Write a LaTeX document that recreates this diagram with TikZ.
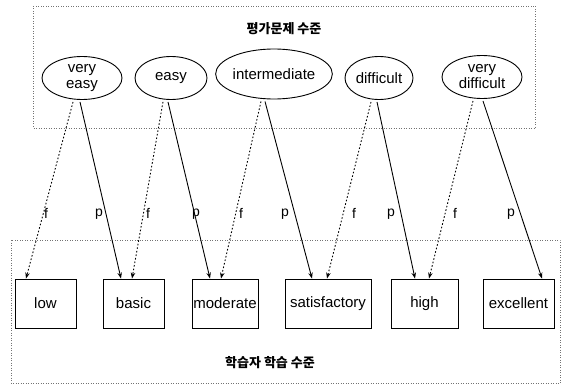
\documentclass[tikz,border=0pt]{standalone}
\usepackage{fontspec}
\setmainfont{Liberation Sans}
\newfontfamily\kr{Noto Sans CJK KR}
\usetikzlibrary{arrows.meta,shapes.geometric}
\begin{document}
\begin{tikzpicture}[x=1pt,y=-1pt,
  lvl/.style={ellipse,draw,line width=0.9pt,inner sep=0pt,minimum height=43pt,font=\fontsize{15}{16}\selectfont,align=center},
  stu/.style={rectangle,draw,line width=0.9pt,minimum height=49pt,inner sep=0pt,font=\fontsize{15}{16}\selectfont},
  grp/.style={draw=black!55,dotted,line width=0.5pt},
  ttl/.style={font=\kr\bfseries\fontsize{13}{13}\selectfont},
  parr/.style={-{Stealth[length=6pt,width=4.5pt]},line width=0.9pt},
  farr/.style={-{Stealth[length=6pt,width=4.5pt]},line width=0.9pt,dash pattern=on 1.6pt off 2pt},
  lab/.style={font=\fontsize{14}{14}\selectfont,inner sep=1pt}
]
\useasboundingbox (0,0) rectangle (562,385);
\draw[grp] (33,6) rectangle (535,128);
\draw[grp] (11,240) rectangle (560,383);
\node[ttl] (top) at (284,29) {평가문제 수준};
\node[ttl] (bot) at (270,363) {학습자 학습 수준};

\node[lvl,minimum width=80pt] (ve) at (82,78) {very\\easy};
\node[lvl,minimum width=72pt] (ea) at (171,78) {easy};
\node[lvl,minimum width=100pt,minimum height=50pt] (in) at (274,74) {intermediate};
\node[lvl,minimum width=68pt] (di) at (379,78) {difficult};
\node[lvl,minimum width=80pt] (vd) at (482,77) {very\\difficult};

\node[stu,minimum width=61pt] (low) at (45.5,303.5) {low};
\node[stu,minimum width=61pt] (bas) at (133.5,303.5) {basic};
\node[stu,minimum width=66pt] (mod) at (225,303.5) {moderate};
\node[stu,minimum width=86pt] (sat) at (328,303.5) {satisfactory};
\node[stu,minimum width=67pt] (hig) at (424.5,303.5) {high};
\node[stu,minimum width=71pt] (exc) at (518.5,303.5) {excellent};

\draw[farr] ([xshift=-9pt,yshift=-2pt]ve.south) -- ([xshift=-19.5pt]low.north);
\draw[parr] ([xshift=-2pt,yshift=-2pt]ve.south) -- ([xshift=-12.5pt]bas.north);
\draw[farr] ([xshift=-8pt,yshift=-2pt]ea.south) -- ([xshift=-1.5pt]bas.north);
\draw[parr] ([xshift=-3pt,yshift=-2pt]ea.south) -- ([xshift=-15pt]mod.north);
\draw[farr] ([xshift=-13pt,yshift=-2pt]in.south) -- ([xshift=-4pt]mod.north);
\draw[parr] ([xshift=-9pt,yshift=-2pt]in.south) -- ([xshift=-16pt]sat.north);
\draw[farr] ([xshift=-8pt,yshift=-2pt]di.south) -- ([xshift=-1pt]sat.north);
\draw[parr] ([xshift=-2pt,yshift=-2pt]di.south) -- ([xshift=-9.5pt]hig.north);
\draw[farr] ([xshift=-9pt,yshift=-2pt]vd.south) -- ([xshift=4.5pt]hig.north);
\draw[parr] ([xshift=1pt,yshift=-2pt]vd.south) -- ([xshift=23.5pt]exc.north);

\node[lab] (f1) at (46,213) {f};
\node[lab] (p1) at (99,214) {p};
\node[lab] (f2) at (148,213) {f};
\node[lab] (p2) at (196,214) {p};
\node[lab] (f3) at (241,213) {f};
\node[lab] (p3) at (285,214) {p};
\node[lab] (f4) at (354,213) {f};
\node[lab] (p4) at (391,214) {p};
\node[lab] (f5) at (455,213) {f};
\node[lab] (p5) at (511,214) {p};
\end{tikzpicture}
\end{document}
